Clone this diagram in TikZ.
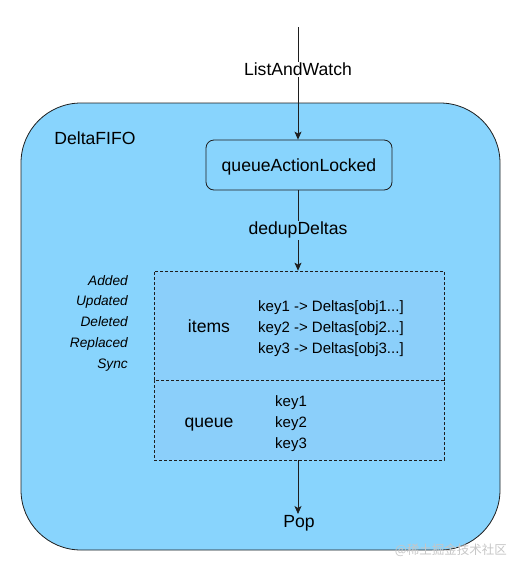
\documentclass[tikz,border=0pt]{standalone}
\usepackage{fontspec}
\setmainfont{Liberation Sans}
\newfontfamily\cjkfont{Noto Sans CJK SC}
\usetikzlibrary{arrows.meta}
\definecolor{fifoblue}{HTML}{88D4FD}
\definecolor{storeblue}{HTML}{8BCFFA}
\definecolor{edgegray}{HTML}{1E1E1E}

\begin{document}
\begin{tikzpicture}[x=1pt, y=-1pt,
  label/.style={font=\fontsize{17.6}{20}\selectfont, inner sep=1pt, anchor=base},
  keytext/.style={font=\fontsize{15}{18}\selectfont, inner sep=0pt, anchor=base west},
  evt/.style={font=\fontsize{13.7}{16}\selectfont\itshape, inner sep=0pt, anchor=base east},
  flow/.style={-{Stealth[length=8pt, width=7pt, inset=2pt]}, draw=edgegray, line width=0.8pt},
  part/.style={draw=edgegray, line width=0.7pt, dash pattern=on 3pt off 2pt,
    fill=storeblue, minimum width=290pt, inner sep=0pt}]
  \useasboundingbox (0,0) rectangle (521,571);

  % DeltaFIFO
  \node[draw=edgegray, line width=0.8pt, fill=fifoblue, rounded corners=60pt,
    minimum width=479pt, minimum height=447pt] (fifo) at (260.5,326.5) {};
  \node[label] (fifoname) at (95,144) {DeltaFIFO};

  % queueActionLocked
  \node[label, anchor=center, text height=12.7pt, text depth=0pt, draw=edgegray,
    line width=0.8pt, fill=fifoblue, rounded corners=8pt,
    minimum width=186pt, minimum height=50pt] (qal) at (299,165) {queueActionLocked};
  \coordinate (src) at (298,27);
  \draw[flow] (src) -- node[label, fill=white, pos=0.43] (lw) {ListAndWatch} (qal.north -| src);

  % items / queue
  \node[part, minimum height=109pt] (itemsbox) at (299,325.5) {};
  \node[part, minimum height=80pt] (queuebox) at (299,420) {};
  \draw[flow] (qal.south -| src) -- node[label, fill=fifoblue, pos=0.555] (dedup) {dedupDeltas} (itemsbox.north -| src);

  \node[label] (items) at (209,332.7) {items};
  \foreach \k/\y in {1/311.7, 2/332.7, 3/353.7} {
    \node[keytext] (item\k) at (258,\y) {key\k{} -> Deltas[obj\k...]};
  }
  \node[label] (queue) at (209,427.5) {queue};
  \foreach \k/\y in {1/406.7, 2/427.5, 3/448.3} {
    \node[keytext] (qkey\k) at (275,\y) {key\k};
  }

  % types of Delta
  \foreach \e [count=\i] in {Added, Updated, Deleted, Replaced, Sync} {
    \node[evt] (evt\i) at (128, 264.3+20.8*\i) {\e};
  }

  % Pop
  \node[label] (pop) at (299,527.3) {Pop};
  \draw[flow] (queuebox.south -| src) -- (pop.north -| src);

  \node[font=\cjkfont\fontsize{12.5}{14}\selectfont, text=gray!45, anchor=east, inner sep=0pt] (mark) at (507,550) {@稀土掘金技术社区};
\end{tikzpicture}
\end{document}
